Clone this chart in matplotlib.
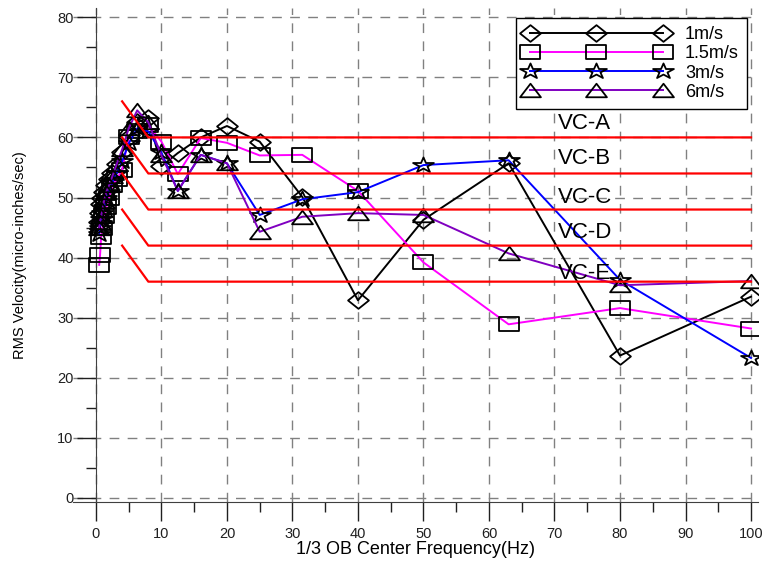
import numpy as np
import matplotlib
matplotlib.use("Agg")
import matplotlib.pyplot as plt
from matplotlib.path import Path
from matplotlib.ticker import MultipleLocator

plt.rcParams["font.family"] = ["Liberation Sans", "DejaVu Sans"]

# 1/3 octave band centre frequencies (Hz)
freq = [0.5, 0.63, 0.8, 1, 1.25, 1.6, 2, 2.5, 3.15, 4, 5, 6.3, 8,
        10, 12.5, 16, 20, 25, 31.5, 40, 50, 63, 80, 100]

v_1ms = [46.0, 47.5, 49.0, 50.0, 51.0, 52.0, 53.0, 54.0, 55.5, 57.5, 60.0, 62.5, 63.3,
         55.2, 57.4, 60.0, 61.9, 59.3, 50.1, 32.9, 46.3, 55.7, 23.7, 33.5]
v_15ms = [38.8, 40.4, 43.5, 45.0, 47.0, 48.5, 50.0, 52.0, 53.0, 54.6, 60.0, 61.0, 62.0,
          59.3, 53.9, 59.9, 59.1, 57.0, 57.1, 51.1, 39.2, 28.9, 31.6, 28.2]
v_3ms = [44.0, 45.0, 46.5, 47.5, 48.5, 50.0, 51.0, 52.5, 54.0, 56.0, 59.0, 61.5, 61.0,
         57.5, 51.1, 57.1, 55.7, 47.1, 49.7, 50.9, 55.4, 56.2, 36.3, 23.3]
v_6ms = [45.0, 46.0, 47.0, 48.0, 49.5, 51.0, 52.0, 53.5, 55.5, 58.0, 61.5, 64.5, 62.5,
         57.0, 51.1, 57.1, 55.7, 44.3, 46.8, 47.4, 47.1, 40.7, 35.4, 36.1]

series_labels = ["1m/s", "1.5m/s", "3m/s", "6m/s"]

# vibration criterion curves
vc_names = ["VC-A", "VC-B", "VC-C", "VC-D", "VC-E"]
vc_levels = [60, 54, 48, 42, 36]
vc_freq = [4, 8, 100]
vc_rise = 6  # level gain at 4 Hz
vc_label_y = [62.3, 56.5, 50.0, 44.1, 37.4]
vc_label_x = 70.5


def wide_marker(verts, sx, sy):
    v = np.array(verts, dtype=float)
    v[:, 0] *= sx
    v[:, 1] *= sy
    return Path(np.vstack([v, v[:1]]), closed=True)


star = Path.unit_regular_star(5, 0.381966).vertices[:-1]
m_diamond = wide_marker([(0, 1), (1, 0), (0, -1), (-1, 0)], 1.0, 0.8)
m_square = wide_marker([(-1, -1), (1, -1), (1, 1), (-1, 1)], 1.0, 0.72)
m_star = wide_marker(star, 1.36, 1.0)
m_tri = wide_marker([(0, 1), (-1, -1), (1, -1)], 1.0, 0.65)

fig = plt.figure(figsize=(7.66, 5.63), dpi=100)
ax = fig.add_axes([0.0953, 0.108, 0.8937, 0.8774])

ax.grid(True, color="#808080", linestyle=(0, (7, 6)), linewidth=1.0)
ax.set_axisbelow(True)

styles = [
    (v_1ms, "black", m_diamond),
    (v_15ms, "#ff00ff", m_square),
    (v_3ms, "#0000ff", m_star),
    (v_6ms, "#8000c0", m_tri),
]
for i, (vals, col, mk) in enumerate(styles):
    ax.plot(freq, vals, color=col, linewidth=1.4, marker=mk, markersize=15,
            markerfacecolor="none", markeredgecolor="black", markeredgewidth=1.3,
            label=series_labels[i], zorder=3 + i)

for name, lvl, ly in zip(vc_names, vc_levels, vc_label_y):
    ax.plot(vc_freq, [lvl + vc_rise, lvl, lvl], color="red", linewidth=1.6, zorder=8)
    ax.text(vc_label_x, ly, name, fontsize=16, va="center", ha="left", zorder=9)

ax.set_xlim(-3.5, 101)
ax.set_ylim(-0.7, 81.5)
ax.xaxis.set_major_locator(MultipleLocator(10))
ax.xaxis.set_minor_locator(MultipleLocator(5))
ax.yaxis.set_major_locator(MultipleLocator(10))
ax.yaxis.set_minor_locator(MultipleLocator(5))
ax.tick_params(which="major", length=14, width=1, labelsize=10.5, direction="out", colors="#202020")
ax.tick_params(which="minor", length=7, width=1, direction="out", colors="#202020")
ax.tick_params(axis="y", pad=2)
ax.tick_params(axis="x", pad=4)

ax.spines["left"].set_position(("data", 0))
for side in ("top", "right"):
    ax.spines[side].set_visible(False)
for side in ("left", "bottom"):
    ax.spines[side].set_color("#404040")

ax.set_xlabel("1/3 OB Center Frequency(Hz)", fontsize=13, labelpad=0)
ax.set_ylabel("RMS Velocity(micro-inches/sec)", fontsize=10.5, labelpad=22)

leg = ax.legend(loc="upper right", bbox_to_anchor=(0.9845, 0.98), borderaxespad=0,
                numpoints=3, handlelength=8.0, handletextpad=0.9, fontsize=13,
                labelspacing=0.12, borderpad=0.45, fancybox=False, framealpha=1,
                edgecolor="black")
leg.get_frame().set_linewidth(1.0)
leg.set_zorder(10)

fig.savefig("out.png", dpi=100)
